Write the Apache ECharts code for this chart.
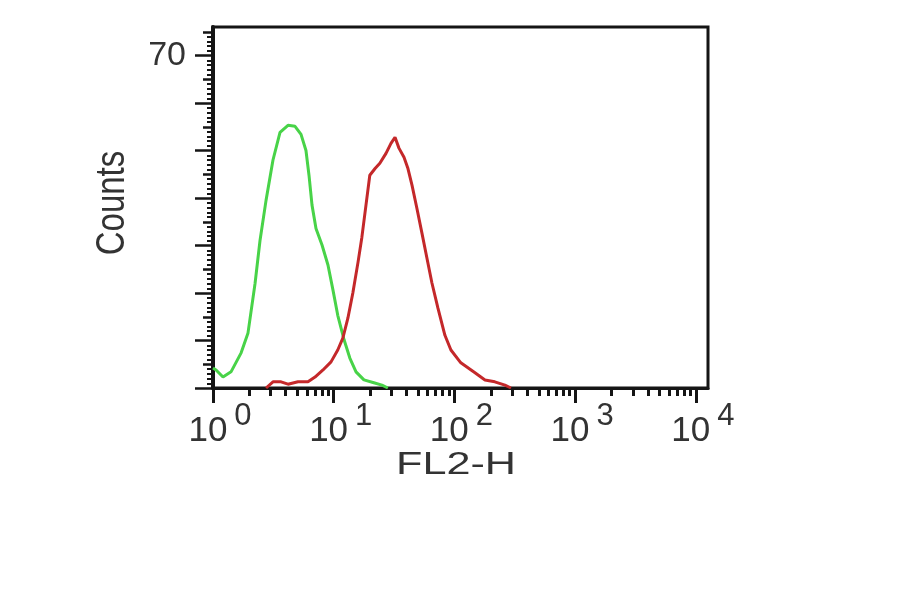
<!DOCTYPE html>
<html><head><meta charset="utf-8">
<script src="https://cdn.jsdelivr.net/npm/echarts@6/dist/echarts.min.js"></script>
<style>html,body{margin:0;padding:0;background:#fff}#c{width:900px;height:594px}</style>
</head><body><div id="c"></div>
<script>
// FL2-H channel values (log axis) and counts
const greenX = [1.0, 1.06, 1.21, 1.41, 1.71, 1.95, 2.23, 2.45, 2.75, 3.14, 3.59, 4.18, 4.78, 5.36, 5.89, 6.24, 6.61, 7.13, 8.0, 8.96, 9.86, 10.8, 12.2, 13.6, 15.3, 17.8, 21.5, 25.1, 28.1];
const greenY = [4.2, 3.8, 2.3, 3.4, 7.4, 11.6, 22, 31, 39.5, 48, 53.8, 55.3, 55.1, 53.4, 50, 44.8, 38.5, 33.6, 30.1, 25.9, 20.6, 15.3, 10.1, 6.3, 3.4, 1.7, 1.1, 0.6, 0];
const redX = [2.75, 3.14, 3.66, 4.18, 5.06, 6.12, 7.0, 8.15, 9.5, 10.8, 11.9, 13.1, 14.4, 15.9, 17.1, 18.5, 19.9, 22.0, 24.1, 27.1, 29.8, 32.2, 34.7, 38.2, 41.2, 44.5, 48.9, 53.8, 59.2, 65.1, 73, 83.4, 93.5, 113, 148, 179, 216, 262, 294];
const redY = [0, 1.3, 1.3, 0.8, 1.3, 1.3, 2.3, 3.8, 5.5, 8.0, 10.5, 14.7, 20, 26.5, 31.7, 38.5, 44.8, 46.2, 47.3, 49.4, 51.5, 52.8, 50.5, 48.6, 46.2, 42.7, 37.8, 32.6, 27.3, 22.1, 16.8, 11.1, 8.0, 5.3, 3.2, 1.7, 1.3, 0.6, 0];

const xMajorTicks = [1, 10, 100, 1000, 10000];
const xMinorTicks = [2,3,4,5,6,7,8,9, 20,30,40,50,60,70,80,90, 200,300,400,500,600,700,800,900, 2000,3000,4000,5000,6000,7000,8000,9000];
const yMajorTicks = [0, 10, 20, 30, 40, 50, 60, 70];
const yMidTicks = [5, 15, 25, 35, 45, 55, 65, 75];
const yLabelTicks = [70];
const yMinorTicks = [];
for (let v = 1; v <= 75; v++) { if (v % 5 !== 0) yMinorTicks.push(v); }

const xTitle = 'FL2-H';
const yTitle = 'Counts';

const INK = '#151515';
const TXT = '#333333';
const FONT = '"Liberation Sans", Arial, Helvetica, sans-serif';

const chart = echarts.init(document.getElementById('c'));
chart.setOption({
  animation: false,
  backgroundColor: '#ffffff',
  grid: { left: 213, right: 192, top: 27, bottom: 206, show: true, borderColor: INK, borderWidth: 3, backgroundColor: '#ffffff' },
  xAxis: [
    {
      type: 'log', logBase: 10, min: 1, max: 12600, position: 'bottom',
      axisLine: { show: true, onZero: false, lineStyle: { color: INK, width: 3 } },
      axisTick: { show: true, length: 15, customValues: xMajorTicks, lineStyle: { color: INK, width: 3 } },
      minorTick: { show: false },
      splitLine: { show: false },
      axisLabel: {
        customValues: xMajorTicks, margin: 13, padding: [0, 0, 0, 14],
        formatter: function (v) { return '{b|10}{s|' + Math.round(Math.log10(v)) + '}'; },
        rich: {
          b: { fontSize: 35, fontFamily: FONT, color: TXT, lineHeight: 48, verticalAlign: 'bottom' },
          s: { fontSize: 31, fontFamily: FONT, color: TXT, lineHeight: 48, verticalAlign: 'top', padding: [0, 0, 0, 7] }
        }
      }
    },
    {
      type: 'log', logBase: 10, min: 1, max: 12600, position: 'bottom',
      axisLine: { show: false, onZero: false },
      axisTick: { show: true, length: 8, customValues: xMinorTicks, lineStyle: { color: INK, width: 3 } },
      axisLabel: { show: false }, splitLine: { show: false }
    }
  ],
  yAxis: [
    {
      type: 'value', min: 0, max: 76, interval: 10, position: 'left',
      axisLine: { show: true, onZero: false, lineStyle: { color: INK, width: 4 } },
      axisTick: { show: true, length: 18, customValues: yMajorTicks, lineStyle: { color: INK, width: 2.5 } },
      splitLine: { show: false },
      axisLabel: { customValues: yLabelTicks, fontSize: 34, fontFamily: FONT, color: TXT, margin: 27 }
    },
    {
      type: 'value', min: 0, max: 76, position: 'left',
      axisLine: { show: false },
      axisTick: { show: true, length: 10, customValues: yMidTicks, lineStyle: { color: INK, width: 2.5 } },
      axisLabel: { show: false }, splitLine: { show: false }
    },
    {
      type: 'value', min: 0, max: 76, position: 'left',
      axisLine: { show: false },
      axisTick: { show: true, length: 6, customValues: yMinorTicks, lineStyle: { color: INK, width: 2 } },
      axisLabel: { show: false }, splitLine: { show: false }
    }
  ],
  graphic: [
    { type: 'text', x: 456, y: 465, scaleX: 1.35, z: 10,
      style: { text: xTitle, fontSize: 32, fontFamily: FONT, fill: TXT, align: 'center', verticalAlign: 'middle' } },
    { type: 'text', x: 113, y: 203, rotation: Math.PI / 2, scaleY: 1.23, z: 10,
      style: { text: yTitle, fontSize: 33, fontFamily: FONT, fill: TXT, align: 'center', verticalAlign: 'middle' } }
  ],
  series: [
    { name: 'control', type: 'line', xAxisIndex: 0, yAxisIndex: 0, showSymbol: false, smooth: false,
      lineStyle: { color: '#48d348', width: 3 }, itemStyle: { color: '#48d348' },
      data: greenX.map((x, i) => [x, greenY[i]]) },
    { name: 'stained', type: 'line', xAxisIndex: 0, yAxisIndex: 0, showSymbol: false, smooth: false,
      lineStyle: { color: '#c4282a', width: 3 }, itemStyle: { color: '#c4282a' },
      data: redX.map((x, i) => [x, redY[i]]) }
  ]
});
</script></body></html>
